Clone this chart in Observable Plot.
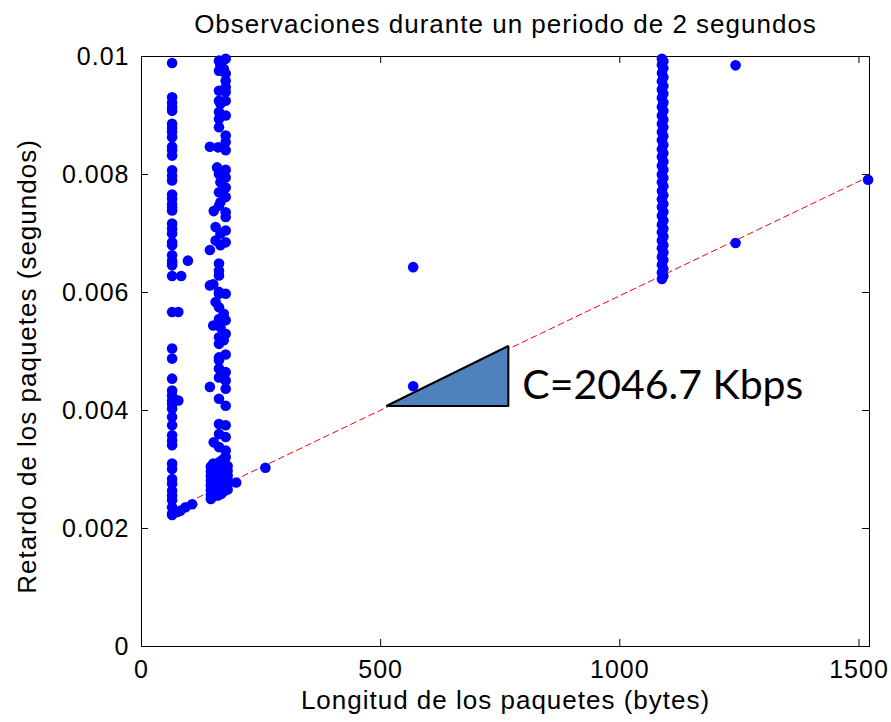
<!DOCTYPE html>
<html><head><meta charset="utf-8">
<script src="https://cdn.jsdelivr.net/npm/d3@7"></script>
<script src="https://cdn.jsdelivr.net/npm/@observablehq/plot@0.6"></script>
<style>
body{margin:0;background:#fff;}
</style></head><body><div id="chart"></div>
<script>
const titleText = "Observaciones durante un periodo de 2 segundos";
const xLabel = "Longitud de los paquetes (bytes)";
const yLabel = "Retardo de los paquetes (segundos)";
const annotationText = "C=2046.7 Kbps";

const xTicks = [0, 500, 1000, 1500];
const yTicks = [0, 0.002, 0.004, 0.006, 0.008, 0.01];
const yTickLabels = ["0", "0.002", "0.004", "0.006", "0.008", "0.01"];

// Column of minimum-size packets (~64 bytes)
const col1Length = 64;
const col1Delay = [0.00989,0.00931,0.00922,0.00914,0.00908,0.00886,0.00879,0.00872,0.00863,0.00847,0.00841,0.00832,
  0.00807,0.00798,0.0079,0.00766,0.00759,0.0075,0.00745,0.00739,0.00717,0.00708,0.007,0.00685,0.0068,0.00663,
  0.00654,0.0065,0.00646,0.00628,0.00567,0.00505,0.00488,0.00454,0.00434,0.00425,0.00417,0.00411,0.00403,0.00389,
  0.00375,0.00358,0.00349,0.00341,0.0031,0.00301,0.00284,0.00276,0.00264,0.00256,0.00248,0.00236,0.00225,0.00223];
// nearby small packets [length, delay]
const col1Extra = [[97,0.00654],[83,0.00628],[77,0.00567],[77,0.00417],[75,0.00228],[81,0.0023],[92,0.00236],[106,0.00241]];

// Column of ~140-180 byte packets [length, delay]
const col2 = [[162,0.00993],[176,0.00996],[165,0.00985],[172,0.00979],[162,0.00976],[176,0.00971],[176,0.00959],
  [176,0.00948],[162,0.00942],[176,0.0094],[162,0.00925],[176,0.00925],[165,0.0092],[162,0.00906],[176,0.009],
  [162,0.00894],[162,0.0088],[176,0.00866],[176,0.00855],[143,0.00847],[160,0.00846],[176,0.00841],[158,0.00812],
  [176,0.00808],[162,0.00801],[176,0.00795],[165,0.00787],[176,0.00778],[162,0.0077],[176,0.00762],[165,0.00753],
  [162,0.00747],[151,0.00738],[176,0.00736],[176,0.00728],[155,0.00711],[176,0.00705],[165,0.007],[155,0.00688],
  [176,0.00685],[165,0.0068],[143,0.00672],[162,0.00649],[162,0.00637],[162,0.00629],[143,0.00612],[162,0.00601],
  [176,0.00598],[150,0.00614],[162,0.00598],[155,0.00584],[162,0.00575],[172,0.00564],[162,0.00555],[176,0.00553],
  [150,0.00544],[165,0.00541],[176,0.0053],[162,0.00524],[172,0.00519],[162,0.00513],[176,0.00495],[162,0.0049],
  [162,0.00485],[162,0.00471],[176,0.00465],[162,0.00456],[176,0.00451],[143,0.0044],[176,0.00437],[162,0.0042],
  [176,0.00408],[162,0.00377],[176,0.00375],[162,0.0036],[176,0.00355],[151,0.00346],[162,0.00338],[176,0.00332],
  [176,0.00321],[162,0.00312],[150,0.0031],
  [145,0.00305],[145,0.00297],[145,0.00289],[145,0.00281],[145,0.00273],[145,0.00265],[145,0.00257],[145,0.0025],
  [152,0.00303],[152,0.00295],[152,0.00287],[152,0.00279],[152,0.00271],[152,0.00263],[152,0.00255],
  [160,0.0031],[160,0.00302],[160,0.00294],[160,0.00286],[160,0.00278],[160,0.0027],[160,0.00262],[160,0.00256],
  [167,0.00315],[167,0.00306],[167,0.00298],[167,0.0029],[167,0.00282],[167,0.00274],[167,0.00266],[167,0.00259],
  [174,0.0032],[174,0.00312],[174,0.00304],[174,0.00296],[174,0.00288],[174,0.0028],[174,0.00272],[174,0.00264],
  [180,0.00306],[180,0.00298],[180,0.0029],[180,0.00282],[180,0.00274],[180,0.00266]];

// Column of ~1090 byte packets
const col3Length = [1088,1091];
const col3Delay = [0.00623,0.00628,0.00634,0.0064,0.00647,0.00655,0.0066,0.00668,0.00675,0.0068,0.00688,0.00695,
  0.00702,0.00708,0.00715,0.00722,0.0073,0.00737,0.00745,0.0075,0.00758,0.00765,0.00772,0.0078,0.00787,0.00794,
  0.008,0.00808,0.00815,0.00822,0.0083,0.00836,0.00843,0.0085,0.00858,0.00865,0.00872,0.0088,0.00886,0.00893,
  0.009,0.00908,0.00915,0.00922,0.0093,0.00937,0.00944,0.0095,0.00958,0.00965,0.00972,0.0098,0.00986,0.00992,0.00996];

// isolated observations [length, delay]
const isolated = [[198,0.00278],[259,0.00303],[568,0.00643],[568,0.00441],[1242,0.00985],[1242,0.00684],[1519,0.00791]];

// lower-bound fit line
const fitLength = [60, 1522];
const fitDelay = [0.0023, 0.00797];

// slope triangle annotation
const triLength = [513, 768];
const triBase = [0.004068, 0.004068];
const triTop = [0.004068, 0.005085];
const annotationAt = [796, 0.004425];

const xDomain = [0, 1522];
const yDomain = [0, 0.01];

// build tables
const points = [];
col1Delay.forEach(d => points.push({L: col1Length, d}));
col1Extra.forEach(([L, d]) => points.push({L, d}));
col2.forEach(([L, d]) => points.push({L, d}));
col3Delay.forEach((d, i) => points.push({L: col3Length[i % 2], d}));
isolated.forEach(([L, d]) => points.push({L, d}));
const fit = fitLength.map((L, i) => ({L, d: fitDelay[i]}));
const tri = triLength.map((L, i) => ({L, y1: triBase[i], y2: triTop[i]}));

const W = 891, H = 722, mL = 141, mR = 22, mT = 56, mB = 76;
const tickPx = 7;
const dyTick = (yDomain[1] - yDomain[0]) * tickPx / (H - mT - mB);
const dxTick = (xDomain[1] - xDomain[0]) * tickPx / (W - mL - mR);

const chart = Plot.plot({
  width: W, height: H,
  marginLeft: mL, marginRight: mR, marginTop: mT, marginBottom: mB,
  style: {fontFamily: "'Liberation Sans', Arial, sans-serif", fontSize: "25px", color: "black", background: "white", overflow: "visible"},
  x: {domain: xDomain, label: null},
  y: {domain: yDomain, label: null},
  marks: [
    Plot.frame({stroke: "black", strokeWidth: 1}),
    Plot.ruleX(xTicks, {x: d => d, y1: yDomain[0], y2: yDomain[0] + dyTick, stroke: "black"}),
    Plot.ruleX(xTicks, {x: d => d, y1: yDomain[1] - dyTick, y2: yDomain[1], stroke: "black"}),
    Plot.ruleY(yTicks, {y: d => d, x1: xDomain[0], x2: xDomain[0] + dxTick, stroke: "black"}),
    Plot.ruleY(yTicks, {y: d => d, x1: xDomain[1] - dxTick, x2: xDomain[1], stroke: "black"}),
    Plot.axisX({ticks: xTicks, tickSize: 0, tickPadding: 14, fontSize: 25, label: null, tickFormat: d => String(d)}),
    Plot.axisY({ticks: yTicks, tickSize: 0, tickPadding: 12, fontSize: 25, label: null, tickFormat: (d, i) => yTickLabels[i]}),
    Plot.line(fit, {x: "L", y: "d", stroke: "red", strokeWidth: 1, strokeDasharray: "6,4"}),
    Plot.areaY(tri, {x: "L", y1: "y1", y2: "y2", fill: "#4F81BD", stroke: "black", strokeWidth: 2, strokeLinejoin: "miter"}),
    Plot.dot(points, {x: "L", y: "d", r: 5.3, fill: "#0000FF", stroke: "none"}),
    Plot.text([annotationText], {x: () => annotationAt[0], y: () => annotationAt[1], text: d => d, textAnchor: "start", lineAnchor: "middle", fontSize: 41, fontFamily: "Lato, 'Open Sans', sans-serif", fill: "black"}),
    Plot.text([titleText], {frameAnchor: "top", dy: -32, text: d => d, textAnchor: "middle", lineAnchor: "middle", fontSize: 26, fill: "black"}),
    Plot.text([xLabel], {frameAnchor: "bottom", dy: 54, text: d => d, textAnchor: "middle", lineAnchor: "middle", fontSize: 26, fill: "black"}),
    Plot.text([yLabel], {frameAnchor: "left", dx: -114, dy: 15, rotate: -90, text: d => d, textAnchor: "middle", lineAnchor: "middle", fontSize: 26, fill: "black"})
  ]
});
document.getElementById("chart").appendChild(chart);
d3.select(chart).selectAll("text").style("letter-spacing", "1px");
d3.select(chart).selectAll("text").filter(function(){ return this.textContent === annotationText; }).style("letter-spacing", "0px");
</script></body></html>
